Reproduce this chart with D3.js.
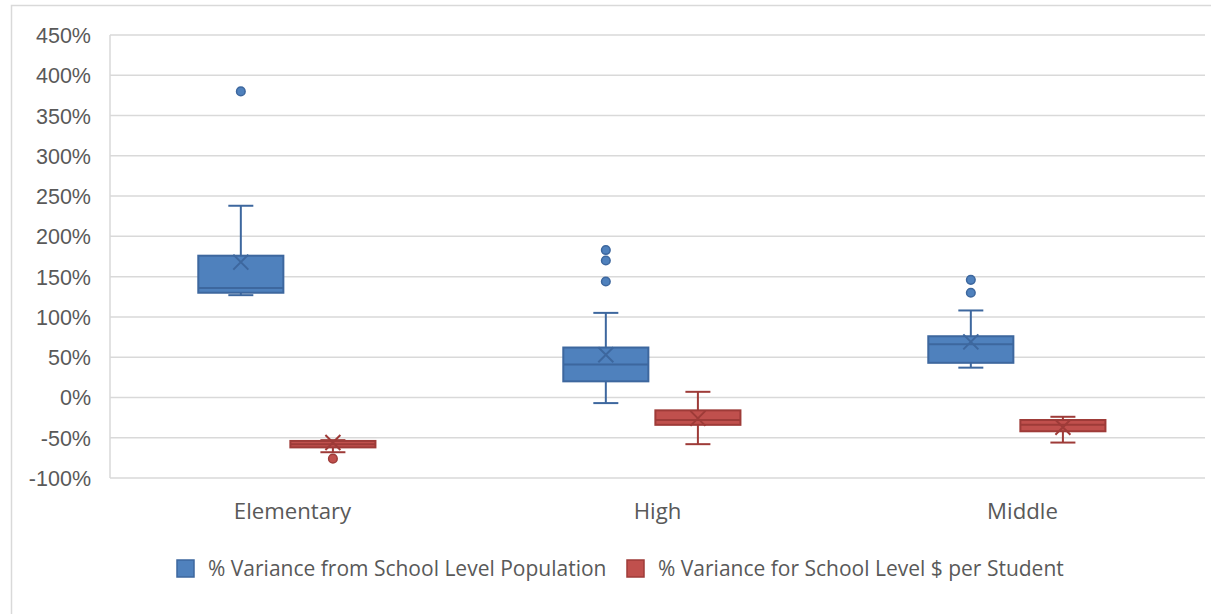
<!DOCTYPE html>
<html>
<head>
<meta charset="utf-8">
<script src="https://cdn.jsdelivr.net/npm/d3@7"></script>
<style>
  html, body { margin: 0; padding: 0; background: #fff; }
  svg { display: block; }
</style>
</head>
<body>
<svg id="chart" width="1211" height="614"></svg>
<script>
// ---------- DATA ----------
const categories = ["Elementary", "High", "Middle"];
const seriesNames = ["% Variance from School Level Population", "% Variance for School Level $ per Student"];
const yTicks = [-100, -50, 0, 50, 100, 150, 200, 250, 300, 350, 400, 450];

// Series 1: % Variance from School Level Population (in %)
const popMin      = [127, -7, 37];
const popQ1       = [130, 20, 43];
const popMedian   = [136, 41, 66];
const popQ3       = [176, 62, 76];
const popMax      = [238, 105, 108];
const popMean     = [168, 53, 69];
const popOutliers = [[380], [183, 170, 144], [146, 130]];

// Series 2: % Variance for School Level $ per Student (in %)
const costMin      = [-68, -58, -56];
const costQ1       = [-62, -34, -42];
const costMedian   = [-58, -28, -34];
const costQ3       = [-54, -16, -28];
const costMax      = [-53, 7, -24];
const costMean     = [-56, -26, -37];
const costOutliers = [[-76], [], []];

// ---------- BUILD ----------
const fills   = ["#4f81bd", "#c0504d"];
const strokes = ["#3d679e", "#9e3b38"];

const series = [
  { name: seriesNames[0], min: popMin, q1: popQ1, med: popMedian, q3: popQ3, max: popMax, mean: popMean, out: popOutliers },
  { name: seriesNames[1], min: costMin, q1: costQ1, med: costMedian, q3: costQ3, max: costMax, mean: costMean, out: costOutliers }
];

const svg = d3.select("#chart");
const plot = { left: 110, right: 1205, top: 35, bottom: 478 };

// outer chart border
svg.append("path")
  .attr("d", `M11.5,620 L11.5,5.5 L1220,5.5`)
  .attr("fill", "none").attr("stroke", "#d9d9d9").attr("stroke-width", 1.5);

const y = d3.scaleLinear().domain([-100, 450]).range([plot.bottom, plot.top]);
const x0 = d3.scaleBand().domain(categories).range([plot.left, plot.right]).padding(0);
const x1 = d3.scaleBand().domain(seriesNames).range([0, x0.bandwidth()])
  .paddingInner(0.076).paddingOuter(1.02).align(0.47);

// gridlines
svg.append("g").selectAll("line").data(yTicks).join("line")
  .attr("x1", plot.left).attr("x2", plot.right)
  .attr("y1", d => y(d)).attr("y2", d => y(d))
  .attr("stroke", "#d9d9d9").attr("stroke-width", 1.5);

// vertical axis line
svg.append("line")
  .attr("x1", plot.left).attr("x2", plot.left)
  .attr("y1", y(450)).attr("y2", y(-100))
  .attr("stroke", "#d9d9d9").attr("stroke-width", 1.5);

// y axis labels
const yAxis = d3.axisLeft(y).tickValues(yTicks).tickSize(0).tickPadding(0)
  .tickFormat(d => d + "%");
const yg = svg.append("g").attr("transform", `translate(91,0)`).call(yAxis);
yg.select(".domain").remove();
yg.selectAll("text")
  .attr("font-family", "'Liberation Sans', Arial, sans-serif")
  .attr("font-size", 21.5).attr("fill", "#595959").attr("dy", "0.35em");

// x axis labels
const xAxis = d3.axisBottom(x0).tickSize(0).tickPadding(0);
const xg = svg.append("g").attr("transform", `translate(0,511)`).call(xAxis);
xg.select(".domain").remove();
xg.selectAll("text")
  .attr("font-family", "'Open Sans', sans-serif")
  .attr("font-size", 22.2).attr("fill", "#595959").attr("dy", "0.35em");

// boxes
series.forEach((s, si) => {
  const g = svg.append("g");
  categories.forEach((c, ci) => {
    const bx = x0(c) + x1(s.name);
    const bw = x1.bandwidth();
    const cx = bx + bw / 2;
    const capW = 25;
    const stroke = strokes[si];
    // whiskers
    g.append("line").attr("x1", cx).attr("x2", cx).attr("y1", y(s.max[ci])).attr("y2", y(s.q3[ci]))
      .attr("stroke", stroke).attr("stroke-width", 2);
    g.append("line").attr("x1", cx).attr("x2", cx).attr("y1", y(s.q1[ci])).attr("y2", y(s.min[ci]))
      .attr("stroke", stroke).attr("stroke-width", 2);
    g.append("line").attr("x1", cx - capW / 2).attr("x2", cx + capW / 2).attr("y1", y(s.max[ci])).attr("y2", y(s.max[ci]))
      .attr("stroke", stroke).attr("stroke-width", 2);
    g.append("line").attr("x1", cx - capW / 2).attr("x2", cx + capW / 2).attr("y1", y(s.min[ci])).attr("y2", y(s.min[ci]))
      .attr("stroke", stroke).attr("stroke-width", 2);
    // box
    g.append("rect").attr("x", bx).attr("y", y(s.q3[ci]))
      .attr("width", bw).attr("height", y(s.q1[ci]) - y(s.q3[ci]))
      .attr("fill", fills[si]).attr("stroke", stroke).attr("stroke-width", 2);
    // median
    g.append("line").attr("x1", bx).attr("x2", bx + bw).attr("y1", y(s.med[ci])).attr("y2", y(s.med[ci]))
      .attr("stroke", stroke).attr("stroke-width", 2);
    // mean X
    const m = y(s.mean[ci]), r = 7.5;
    g.append("path")
      .attr("d", `M${cx - r},${m - r}L${cx + r},${m + r}M${cx - r},${m + r}L${cx + r},${m - r}`)
      .attr("stroke", stroke).attr("stroke-width", 2).attr("fill", "none");
    // outliers
    g.selectAll(null).data(s.out[ci]).join("circle")
      .attr("cx", cx).attr("cy", d => y(d)).attr("r", 4.3)
      .attr("fill", fills[si]).attr("stroke", stroke).attr("stroke-width", 1.5);
  });
});

// legend
const legendX = [176, 626];
const lg = svg.append("g");
seriesNames.forEach((name, i) => {
  lg.append("rect").attr("x", legendX[i] + 1).attr("y", 560).attr("width", 17).attr("height", 17)
    .attr("fill", fills[i]).attr("stroke", strokes[i]).attr("stroke-width", 1.5);
  lg.append("text").attr("x", legendX[i] + 32).attr("y", 568.5).attr("dy", "0.35em")
    .attr("font-family", "'Open Sans', sans-serif").attr("font-size", 21)
    .attr("fill", "#595959").text(name);
});
</script>
</body>
</html>
